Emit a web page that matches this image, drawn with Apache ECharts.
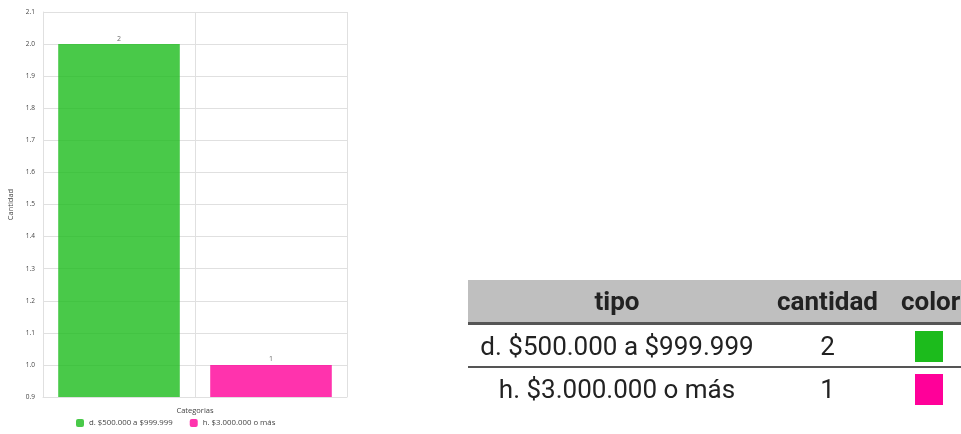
<!DOCTYPE html>
<html>
<head>
<meta charset="utf-8">
<script src="https://cdn.jsdelivr.net/npm/echarts@6/dist/echarts.min.js"></script>
<style>
  body { margin: 0; background: #fff; }
  #main { position: absolute; left: 0; top: 0; width: 961px; height: 434px; }
  #tabla { position: absolute; left: 468px; top: 280px; border-collapse: collapse; table-layout: fixed;
           width: 520px; font-family: Roboto, sans-serif; font-size: 26px; color: #222; }
  #tabla th { background: #bfbfbf; font-weight: bold; height: 42px; padding: 0;
              border-bottom: 3px solid #555; text-align: center; }
  #tabla td { height: 41px; padding: 0; text-align: center; white-space: nowrap; }
  #tabla tr.first td { border-bottom: 2px solid #555; }
  .sw { display: inline-block; width: 28px; height: 31px; vertical-align: middle; }
</style>
</head>
<body>
<div id="main"></div>
<table id="tabla"></table>
<script>
// datos
const categorias = ['d. $500.000 a $999.999', 'h. $3.000.000 o más'];
const cantidades = [2, 1];
const colores = ['#1cbb1c', '#ff0099'];
const tablaCols = ['tipo', 'cantidad', 'color'];

// tabla de la derecha
const tabla = document.getElementById('tabla');
let html = '<colgroup><col style="width:298px"><col style="width:123px"><col style="width:99px"></colgroup><tr>' +
  '<th>' + tablaCols[0] + '</th>' +
  '<th>' + tablaCols[1] + '</th>' +
  '<th style="text-align:left;padding-left:12px">' + tablaCols[2] + '</th></tr>';
categorias.forEach((c, i) => {
  html += '<tr class="' + (i === 0 ? 'first' : '') + '"><td>' + c + '</td><td>' + cantidades[i] +
    '</td><td style="text-align:left;padding-left:26px"><span class="sw" style="background:' + colores[i] + '"></span></td></tr>';
});
tabla.innerHTML = html;

const font = '"Open Sans", sans-serif';
var series = categorias.map((c, i) => ({
  name: c,
  type: 'bar',
  stack: 'total',
  barWidth: '80%',
  itemStyle: { color: colores[i], opacity: 0.8 },
  label: { show: true, position: 'top', fontSize: 7, color: '#444', fontFamily: font, distance: 2 },
  data: categorias.map((_, j) => (j === i ? cantidades[i] : '-'))
}));

var myChart = echarts.init(document.getElementById('main'));
myChart.setOption({
  animation: false,
  grid: { left: 43, right: 614, top: 12, bottom: 37 },
  legend: {
    bottom: 2, left: 71, itemWidth: 8, itemHeight: 8, itemGap: 17,
    icon: 'roundRect',
    textStyle: { fontSize: 7.8, color: '#444', fontFamily: font },
    data: categorias
  },
  xAxis: {
    type: 'category',
    data: categorias,
    name: 'Categorias',
    nameLocation: 'middle',
    nameGap: 10,
    nameTextStyle: { fontSize: 7.5, color: '#444', fontFamily: font },
    axisLabel: { show: false, interval: 0 },
    axisTick: { show: false, interval: 0 },
    axisLine: { lineStyle: { color: '#e0e0e0' } },
    splitLine: { show: true, interval: 0, lineStyle: { color: '#e0e0e0' } }
  },
  yAxis: {
    type: 'value',
    min: 0.9, max: 2.1, interval: 0.1,
    name: 'Cantidad',
    nameLocation: 'middle',
    nameGap: 28,
    nameTextStyle: { fontSize: 7.5, color: '#444', fontFamily: font },
    axisLine: { show: true, lineStyle: { color: '#e0e0e0' } },
    axisLabel: { fontSize: 6.5, color: '#444', fontFamily: font, margin: 8,
      formatter: v => v.toFixed(1) },
    splitLine: { lineStyle: { color: '#e0e0e0' } }
  },
  series: series
});
</script>
</body>
</html>
